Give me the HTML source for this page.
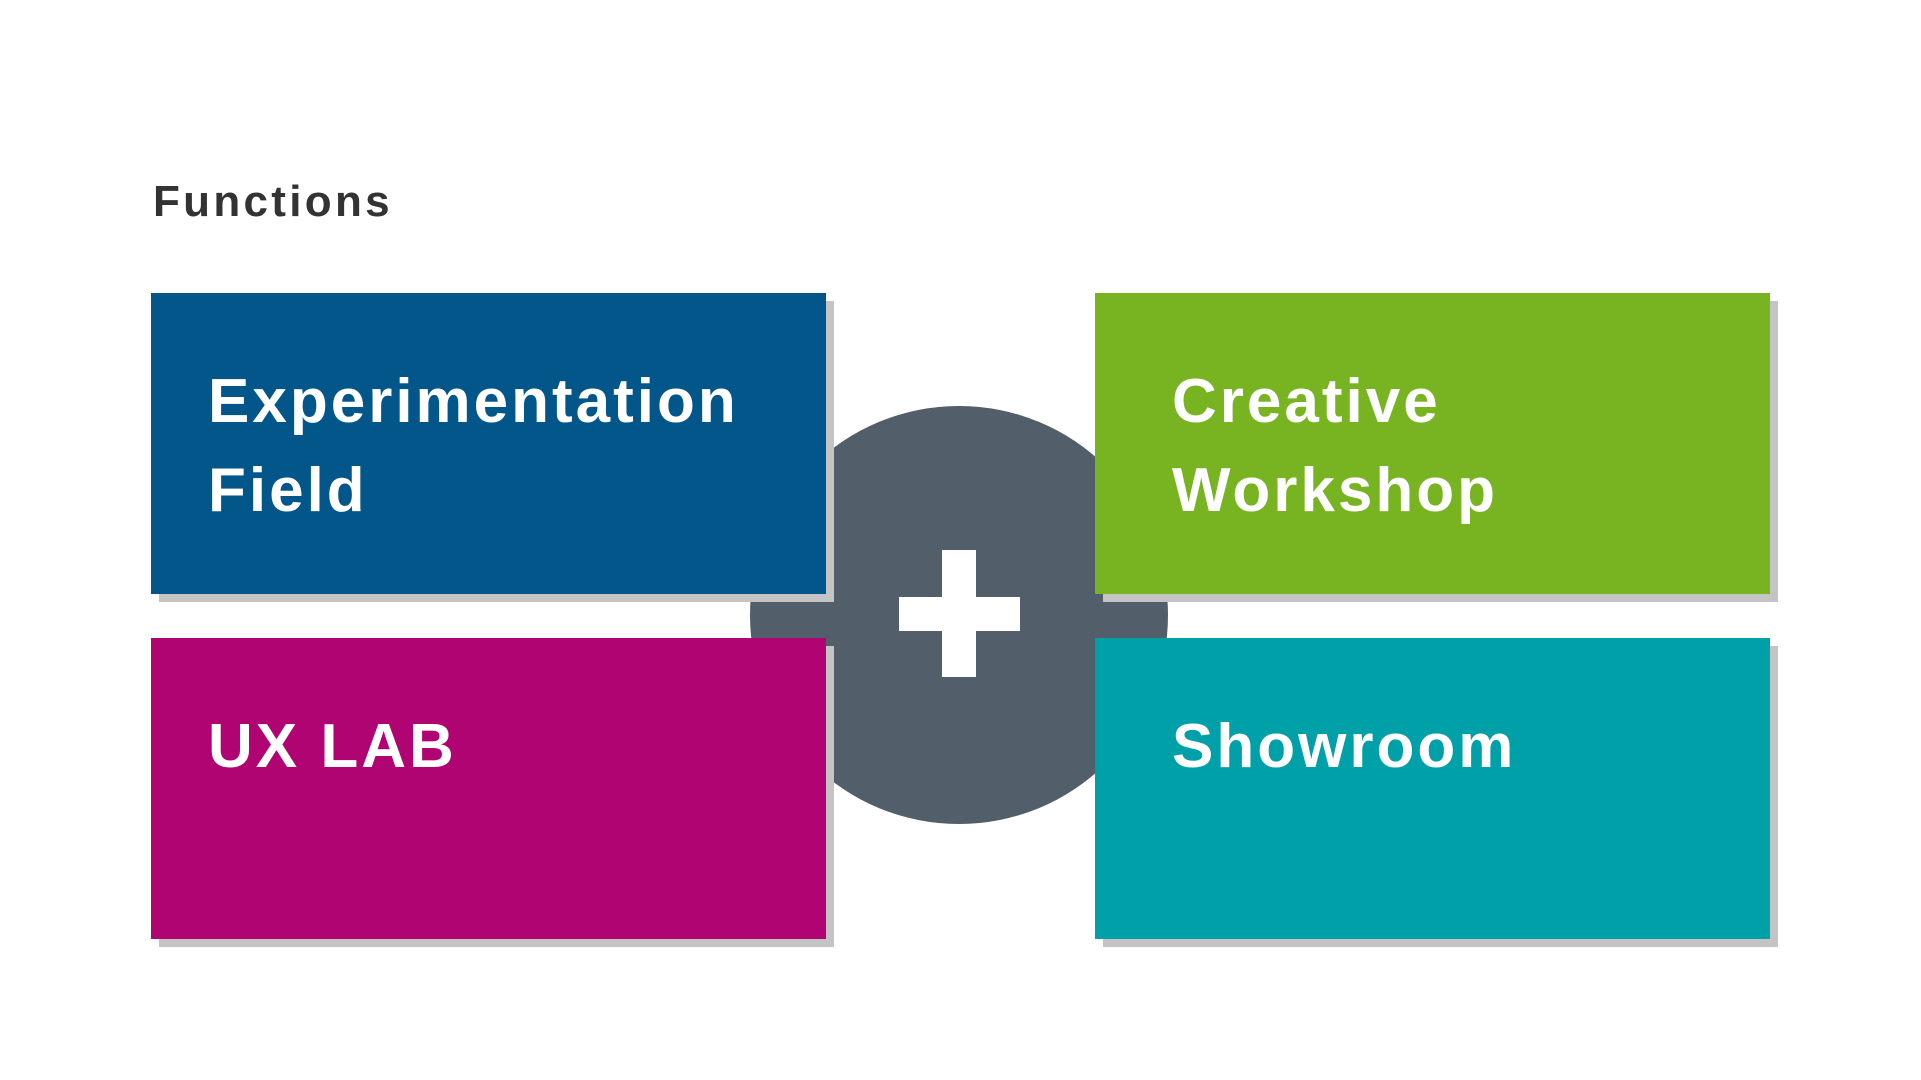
<!DOCTYPE html>
<html><head><meta charset="utf-8"><style>
html,body{margin:0;padding:0;background:#fff;}
body{width:1921px;height:1080px;position:relative;overflow:hidden;font-family:"Liberation Sans",sans-serif;}
.t{position:absolute;font-weight:bold;}
.box{position:absolute;width:675px;height:301px;box-shadow:8px 8px 0 #c4c4c4;}
.lbl{position:absolute;color:#fff;font-weight:bold;font-size:62px;line-height:89px;left:57px;top:64px;letter-spacing:3px;}
</style></head><body>
<div class="t" style="left:153px;top:177px;font-size:44px;color:#333;letter-spacing:3.3px;">Functions</div>
<div style="position:absolute;left:750px;top:406px;width:418px;height:418px;border-radius:50%;background:#525e6a;"></div>
<div style="position:absolute;left:942px;top:550px;width:34px;height:127px;background:#fff;"></div>
<div style="position:absolute;left:899px;top:597px;width:121px;height:34px;background:#fff;"></div>
<div class="box" style="left:151px;top:293px;background:#02568a;"><div class="lbl">Experimentation<br>Field</div></div>
<div class="box" style="left:1095px;top:293px;background:#78b422;"><div class="lbl" style="left:77px">Creative<br>Workshop</div></div>
<div class="box" style="left:151px;top:638px;background:#b00472;"><div class="lbl">UX LAB</div></div>
<div class="box" style="left:1095px;top:638px;background:#00a0a8;"><div class="lbl" style="left:77px">Showroom</div></div>
</body></html>
